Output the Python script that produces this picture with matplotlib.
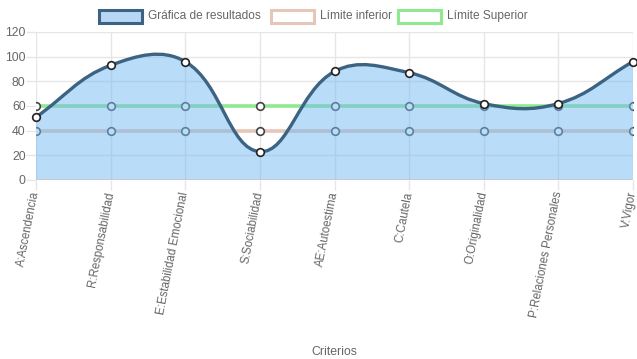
import matplotlib
matplotlib.use('Agg')
import matplotlib.pyplot as plt
from matplotlib.path import Path
from matplotlib.patches import PathPatch, Rectangle
import numpy as np

criterios = ['A:Ascendencia', 'R:Responsabilidad', 'E:Estabilidad Emocional',
             'S:Sociabilidad', 'AE:Autoestima', 'C:Cautela', 'O:Originalidad',
             'P:Relaciones Personales', 'V:Vigor']
resultados = [51, 93, 96, 23, 88, 87, 62, 62, 96]
limite_inferior = [40] * 9
limite_superior = [60] * 9
yticks = [0, 20, 40, 60, 80, 100, 120]

plt.rcParams['font.family'] = ['Liberation Sans', 'DejaVu Sans']

W, H = 637, 359
fig = plt.figure(figsize=(W / 100, H / 100), dpi=100)
x0, x1, ytop, ybot = 36, 633, 32, 180
ax = fig.add_axes([x0 / W, 1 - ybot / H, (x1 - x0) / W, (ybot - ytop) / H])

n = len(criterios)
xs = np.arange(n)
ax.set_xlim(0, n - 1)
ax.set_ylim(0, 120)

# pixel scale (used for chart.js-like bezier tension)
sx = (x1 - x0) / (n - 1)
sy = (ybot - ytop) / 120.0


def spline_path(xv, yv, tension=0.4):
    px = np.array(xv, float) * sx
    py = np.array(yv, float) * sy
    m = len(px)
    cps = []
    for i in range(m):
        pi = max(i - 1, 0)
        ni = min(i + 1, m - 1)
        d01 = np.hypot(px[i] - px[pi], py[i] - py[pi])
        d12 = np.hypot(px[ni] - px[i], py[ni] - py[i])
        tot = d01 + d12
        s01 = d01 / tot if tot else 0
        s12 = d12 / tot if tot else 0
        fa, fb = tension * s01, tension * s12
        c1 = (px[i] - fa * (px[ni] - px[pi]), py[i] - fa * (py[ni] - py[pi]))
        c2 = (px[i] + fb * (px[ni] - px[pi]), py[i] + fb * (py[ni] - py[pi]))
        cps.append((c1, c2))
    verts = [(px[0], py[0])]
    codes = [Path.MOVETO]
    for i in range(m - 1):
        verts += [cps[i][1], cps[i + 1][0], (px[i + 1], py[i + 1])]
        codes += [Path.CURVE4] * 3
    verts = [(vx / sx, min(max(vy / sy, 0), 120)) for vx, vy in verts]
    return verts, codes


grid_c = '#e6e6e6'
for y in yticks:
    ax.axhline(y, color=grid_c, lw=1, zorder=0)
for x in xs:
    ax.axvline(x, color=grid_c, lw=1, zorder=0)

# datasets drawn in reverse order (chart.js)
ax.plot(xs, limite_superior, color='#90e890', lw=2.6, zorder=1,
        marker='o', ms=5.5, mfc='white', mec='#444444', mew=1.2)
ax.plot(xs, limite_inferior, color='#e6c6b8', lw=2.6, zorder=2,
        marker='o', ms=5.5, mfc='white', mec='#444444', mew=1.2)

verts, codes = spline_path(xs, resultados)
fill_verts = verts + [(n - 1, 0), (0, 0), verts[0]]
fill_codes = codes + [Path.LINETO, Path.LINETO, Path.CLOSEPOLY]
ax.add_patch(PathPatch(Path(fill_verts, fill_codes), facecolor=(0.46, 0.73, 0.95, 0.5),
                       edgecolor='none', zorder=3))
ax.add_patch(PathPatch(Path(verts, codes), facecolor='none', edgecolor='#3d6383',
                       lw=2.4, zorder=4))
ax.plot(xs, resultados, ls='none', marker='o', ms=5.5, mfc='white', mec='#222222',
        mew=1.2, zorder=5, clip_on=False)

ax.axhline(0, color='#c8c8c8', lw=1.2, zorder=4)

for s in ax.spines.values():
    s.set_visible(False)
ax.set_yticks(yticks)
ax.set_xticks(xs)
ax.set_xticklabels(criterios, rotation=79, ha='right', va='center', rotation_mode='anchor')
ax.tick_params(axis='both', colors=grid_c, length=7, width=1, labelcolor='#666666',
               labelsize=8.8)
ax.tick_params(axis='x', labelsize=8.3, pad=1.5)
ax.tick_params(axis='y', pad=0.5)
ax.set_xlabel('Criterios', color='#666666', fontsize=8.8)
ax.xaxis.set_label_coords(0.5, (ybot - 346) / (ybot - ytop) + 0.0, transform=ax.transAxes)

# legend
def legend_item(xbox, text, fc, ec):
    fig.patches.append(Rectangle((xbox / W, 1 - 23 / H), 43 / W, 13 / H, transform=fig.transFigure,
                                 facecolor=fc, edgecolor=ec, lw=2.2))
    fig.text((xbox + 49) / W, 1 - 16 / H, text, color='#666666', fontsize=8.6, va='center')

legend_item(99, 'Gráfica de resultados', '#b7d7f5', '#3d6383')
legend_item(271, 'Límite inferior', 'white', '#e6c6b8')
legend_item(398, 'Límite Superior', 'white', '#90e890')

fig.savefig('out.png', dpi=100)
